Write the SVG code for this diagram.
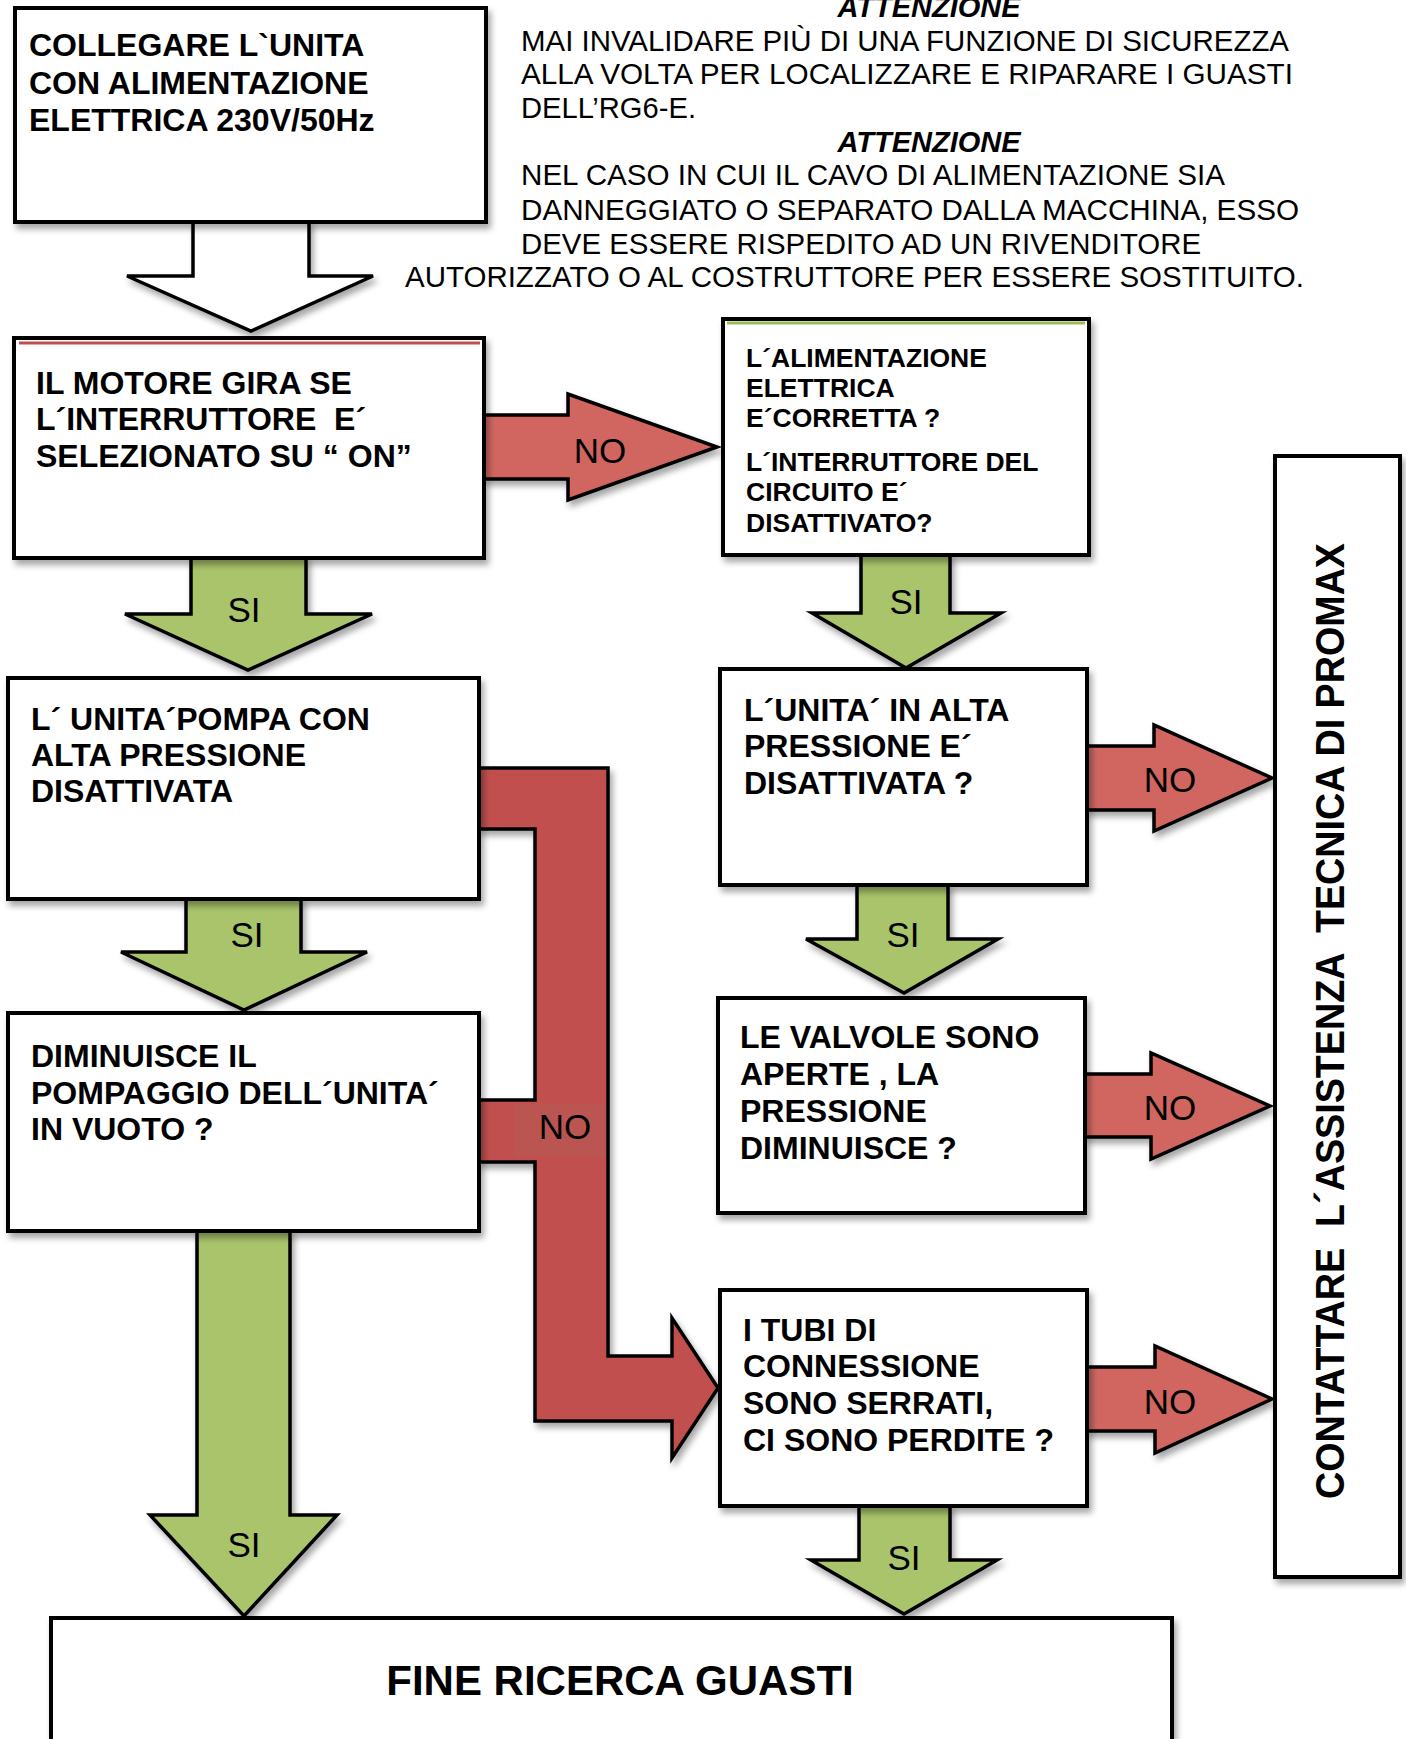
<svg xmlns="http://www.w3.org/2000/svg" width="1406" height="1739" viewBox="0 0 1406 1739">
<defs>
<filter id="sh" x="-10%" y="-10%" width="130%" height="130%">
<feDropShadow dx="3" dy="5" stdDeviation="3" flood-color="#000" flood-opacity="0.35"/>
</filter>
<style>
.box{fill:#fff;stroke:#000;stroke-width:4;filter:url(#sh)}
.t{font-family:"Liberation Sans",Arial,sans-serif;font-weight:bold;font-size:32px;fill:#000}
.t3{font-family:"Liberation Sans",Arial,sans-serif;font-weight:bold;font-size:26.5px;fill:#000}
.note{font-family:"Liberation Sans",Arial,sans-serif;font-size:29.3px;fill:#000}
.att{font-family:"Liberation Sans",Arial,sans-serif;font-size:29px;font-weight:bold;font-style:italic;fill:#000}
.lbl{font-family:"Liberation Sans",Arial,sans-serif;font-size:35px;fill:#000;text-anchor:middle}
.no{fill:#d0665f;stroke:#000;stroke-width:3.5;stroke-linejoin:miter;filter:url(#sh)}
.si{fill:#a9c46b;stroke:#000;stroke-width:3.5;stroke-linejoin:miter;filter:url(#sh)}
.wh{fill:#fff;stroke:#000;stroke-width:3.5;filter:url(#sh)}
.conn{fill:#c0504d;stroke:#000;stroke-width:3.5;filter:url(#sh)}
</style>
</defs>
<rect width="1406" height="1739" fill="#fff"/>

<g id="notes">
<text class="att" x="929" y="17" text-anchor="middle">ATTENZIONE</text>
<text class="note" x="521" y="51" textLength="768" lengthAdjust="spacingAndGlyphs">MAI INVALIDARE PIÙ DI UNA FUNZIONE DI SICUREZZA</text>
<text class="note" x="521" y="84" textLength="772" lengthAdjust="spacingAndGlyphs">ALLA VOLTA PER LOCALIZZARE E RIPARARE I GUASTI</text>
<text class="note" x="521" y="118" textLength="175" lengthAdjust="spacingAndGlyphs">DELL’RG6-E.</text>
<text class="att" x="929" y="152" text-anchor="middle">ATTENZIONE</text>
<text class="note" x="521" y="185" textLength="704" lengthAdjust="spacingAndGlyphs">NEL CASO IN CUI IL CAVO DI ALIMENTAZIONE SIA</text>
<text class="note" x="521" y="220" textLength="778" lengthAdjust="spacingAndGlyphs">DANNEGGIATO O SEPARATO DALLA MACCHINA, ESSO</text>
<text class="note" x="521" y="254" textLength="680" lengthAdjust="spacingAndGlyphs">DEVE ESSERE RISPEDITO AD UN RIVENDITORE</text>
<text class="note" x="405" y="287" textLength="899" lengthAdjust="spacingAndGlyphs">AUTORIZZATO O AL COSTRUTTORE PER ESSERE SOSTITUITO.</text>
</g>

<g id="connectors">
<polygon class="wh" points="193,222 193,276 127,276 251,331 373,276 309,276 309,222"/>
<polygon class="no" points="484,415 568,415 568,394 717,447 568,500 568,479 484,479"/>
<polygon class="si" points="191,558 191,614 125,614 248,670 372,614 306,614 306,558"/>
<polygon class="si" points="861,555 861,613 812,613 906,668 1001,613 950,613 950,555"/>
<polygon class="no" points="1087,746 1154,746 1154,725 1272,778 1154,831 1154,810 1087,810"/>
<polygon class="si" points="857,885 857,939 806,939 904,993 998,939 948,939 948,885"/>
<polygon class="si" points="186,899 186,952 121,952 244,1010 367,952 301,952 301,899"/>
<polygon class="no" points="1085,1074 1151,1074 1151,1053 1270,1106 1151,1159 1151,1137 1085,1137"/>
<polygon class="conn" points="479,768 608,768 608,1356 672,1356 672,1318 718,1388 672,1458 672,1421 535,1421 535,1162 479,1162 479,1100 535,1100 535,829 479,829"/>
<rect x="515" y="1104" width="91" height="53" fill="#bb5551"/>
<polygon class="no" points="1087,1367 1155,1367 1155,1346 1272,1399 1155,1453 1155,1431 1087,1431"/>
<polygon class="si" points="197,1231 197,1515 150,1515 244,1616 337,1515 290,1515 290,1231"/>
<polygon class="si" points="859,1506 859,1560 811,1560 904,1614 997,1560 950,1560 950,1506"/>
<text class="lbl" x="600" y="463">NO</text>
<text class="lbl" x="244" y="622">SI</text>
<text class="lbl" x="906" y="614">SI</text>
<text class="lbl" x="1170" y="792">NO</text>
<text class="lbl" x="247" y="947">SI</text>
<text class="lbl" x="903" y="947">SI</text>
<text class="lbl" x="1170" y="1120">NO</text>
<text class="lbl" x="565" y="1139">NO</text>
<text class="lbl" x="1170" y="1414">NO</text>
<text class="lbl" x="244" y="1557">SI</text>
<text class="lbl" x="904" y="1570">SI</text>
</g>

<g id="n1">
<rect class="box" x="15" y="8" width="471" height="214"/>
<text class="t" x="29" y="56">COLLEGARE L`UNITA</text>
<text class="t" x="29" y="93.5">CON ALIMENTAZIONE</text>
<text class="t" x="29" y="131">ELETTRICA 230V/50Hz</text>
</g>

<g id="n2">
<rect class="box" x="14" y="338" width="470" height="220"/>
<line x1="19" y1="343" x2="480" y2="343" stroke="#c0504d" stroke-width="3"/>
<text class="t" x="36" y="394">IL MOTORE GIRA SE</text>
<text class="t" x="36" y="430" xml:space="preserve">L´INTERRUTTORE  E´</text>
<text class="t" x="36" y="467">SELEZIONATO SU “ ON”</text>
</g>

<g id="n3">
<rect class="box" x="723" y="319" width="366" height="236"/>
<line x1="727" y1="323" x2="1085" y2="323" stroke="#9bbb59" stroke-width="3"/>
<text class="t3" x="746" y="367">L´ALIMENTAZIONE</text>
<text class="t3" x="746" y="397">ELETTRICA</text>
<text class="t3" x="746" y="427">E´CORRETTA ?</text>
<text class="t3" x="746" y="471">L´INTERRUTTORE DEL</text>
<text class="t3" x="746" y="501">CIRCUITO E´</text>
<text class="t3" x="746" y="532">DISATTIVATO?</text>
</g>

<g id="n4">
<rect class="box" x="720" y="669" width="367" height="216"/>
<text class="t" x="744" y="721">L´UNITA´ IN ALTA</text>
<text class="t" x="744" y="757">PRESSIONE E´</text>
<text class="t" x="744" y="794">DISATTIVATA ?</text>
</g>

<g id="n5">
<rect class="box" x="718" y="998" width="367" height="215"/>
<text class="t" x="740" y="1048">LE VALVOLE SONO</text>
<text class="t" x="740" y="1085">APERTE , LA</text>
<text class="t" x="740" y="1122">PRESSIONE</text>
<text class="t" x="740" y="1159">DIMINUISCE ?</text>
</g>

<g id="n6">
<rect class="box" x="8" y="678" width="471" height="221"/>
<text class="t" x="31" y="730">L´ UNITA´POMPA CON</text>
<text class="t" x="31" y="766">ALTA PRESSIONE</text>
<text class="t" x="31" y="802">DISATTIVATA</text>
</g>

<g id="n7">
<rect class="box" x="8" y="1013" width="471" height="218"/>
<text class="t" x="31" y="1067">DIMINUISCE IL</text>
<text class="t" x="31" y="1104">POMPAGGIO DELL´UNITA´</text>
<text class="t" x="31" y="1140">IN VUOTO ?</text>
</g>

<g id="n8">
<rect class="box" x="720" y="1290" width="367" height="216"/>
<text class="t" x="743" y="1341">I TUBI DI</text>
<text class="t" x="743" y="1377">CONNESSIONE</text>
<text class="t" x="743" y="1414">SONO SERRATI,</text>
<text class="t" x="743" y="1451">CI SONO PERDITE ?</text>
</g>

<g id="n9">
<rect class="box" x="1275" y="456" width="125" height="1121"/>
<text class="t" style="font-size:41px" transform="translate(1344,1021) rotate(-90)" text-anchor="middle" textLength="956" lengthAdjust="spacingAndGlyphs" xml:space="preserve">CONTATTARE  L´ASSISTENZA  TECNICA DI PROMAX</text>
</g>

<g id="n10">
<rect class="box" x="51" y="1618" width="1121" height="160"/>
<text class="t" style="font-size:42px" x="620" y="1695" text-anchor="middle">FINE RICERCA GUASTI</text>
</g>
</svg>
